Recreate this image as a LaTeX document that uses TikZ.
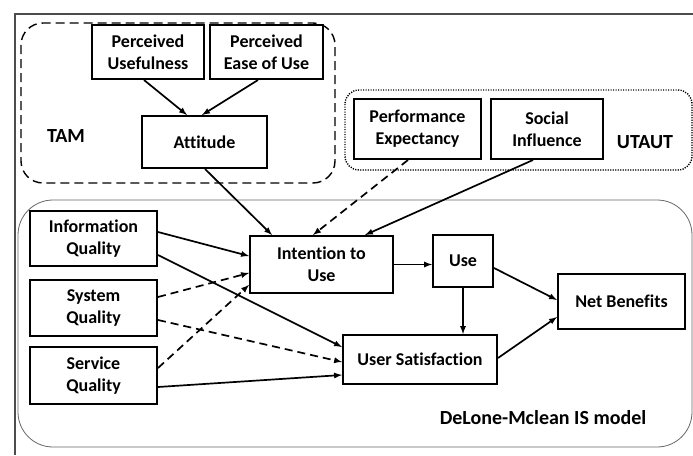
\documentclass[tikz,border=0pt]{standalone}
\usepackage{fontspec}
\setmainfont[Ligatures=CommonOff]{Carlito}
\usepackage{xcolor}
\usepackage{tikz}

\begin{document}
\begin{tikzpicture}[x=1pt,y=-1pt,
  box/.style={draw, line width=2pt, align=center, inner sep=0pt, font=\fontsize{18}{22}\selectfont\bfseries},
  lbl/.style={font=\fontsize{20}{22}\selectfont\bfseries},
  conn/.style={line width=1.7pt, -latex}]
\useasboundingbox (0,0) rectangle (693,455);
% frame and groups
\draw[line width=1.5pt, black!70] (693,14) -- (15,14) -- (15,455);
\draw[line width=1.4pt, dash pattern=on 9pt off 5pt, rounded corners=22pt] (21,23) rectangle (335,183);
\draw[line width=1.4pt, dash pattern=on 1.2pt off 1.3pt, rounded corners=14pt] (345,90) rectangle (692,170);
\draw[line width=0.8pt, black!60, rounded corners=35pt] (18,200) rectangle (692,447);
\node[lbl] (tam) at (66,136) {TAM};
\node[lbl] (utaut) at (645,142) {UTAUT};
\node[lbl] (dm) at (543,418) {DeLone-Mclean IS model};
% boxes
\node[box, minimum width=112pt, minimum height=54pt] (pu) at (148,52) {Perceived\\Usefulness};
\node[box, minimum width=113pt, minimum height=54pt] (peu) at (266.5,52) {Perceived\\Ease of Use};
\node[box, minimum width=125pt, minimum height=52pt] (att) at (204.5,142) {Attitude};
\node[box, minimum width=127pt, minimum height=60pt] (pe) at (417.5,129) {Performance\\Expectancy};
\node[box, minimum width=112pt, minimum height=60pt] (si) at (547,129) {Social\\Influence};
\node[box, minimum width=127pt, minimum height=55pt] (iq) at (93.5,238.5) {Information\\Quality};
\node[box, minimum width=127pt, minimum height=56pt] (sq) at (93.5,308) {System\\Quality};
\node[box, minimum width=127pt, minimum height=57pt] (svq) at (93.5,375.5) {Service\\Quality};
\node[box, minimum width=143pt, minimum height=57pt] (itu) at (321.5,264.5) {Intention to\\Use};
\node[box, minimum width=60pt, minimum height=52pt] (use) at (463,261) {Use};
\node[box, minimum width=127pt, minimum height=55pt] (nb) at (621.5,301.5) {Net Benefits};
\node[box, minimum width=154pt, minimum height=49pt] (us) at (420,359.5) {User Satisfaction};
% TAM / UTAUT links
\draw[conn] ([xshift=-4pt]pu.south) -- ([xshift=-17.5pt]att.north);
\draw[conn] ([xshift=-8.5pt]peu.south) -- ([xshift=-2.5pt]att.north);
\draw[conn] ([xshift=0.5pt]att.south) -- ([xshift=-49.5pt]itu.north);
\draw[conn, dash pattern=on 8pt off 5pt] ([xshift=-9.5pt]pe.south) -- ([xshift=-8.5pt]itu.north);
\draw[conn] ([xshift=-14pt]si.south) -- ([xshift=43.5pt]itu.north);
% quality links
\draw[conn] ([yshift=6.5pt]iq.east) -- ([yshift=8.5pt]itu.west);
\draw[conn] ([yshift=-16.5pt]iq.east) -- ([yshift=12.5pt]us.west);
\draw[conn, dash pattern=on 8pt off 5pt] ([yshift=11pt]sq.east) -- ([yshift=-8.5pt]itu.west);
\draw[conn, dash pattern=on 8pt off 5pt] ([yshift=-12pt]sq.east) -- ([yshift=-2.5pt]us.west);
\draw[conn, dash pattern=on 8pt off 5pt] ([yshift=7.5pt]svq.east) -- ([yshift=-20.5pt]itu.west);
\draw[conn] ([yshift=-11.5pt]svq.east) -- ([yshift=-15.5pt]us.west);
% model links
\draw[conn] (itu.east) -- (itu.east -| use.west);
\draw[conn] (use.south) -- (use.south |- us.north);
\draw[conn] ([yshift=-7pt]use.east) -- ([yshift=1.5pt]nb.west);
\draw[conn] ([yshift=1.5pt]us.east) -- ([yshift=-15.5pt]nb.west);
\end{tikzpicture}
\end{document}
